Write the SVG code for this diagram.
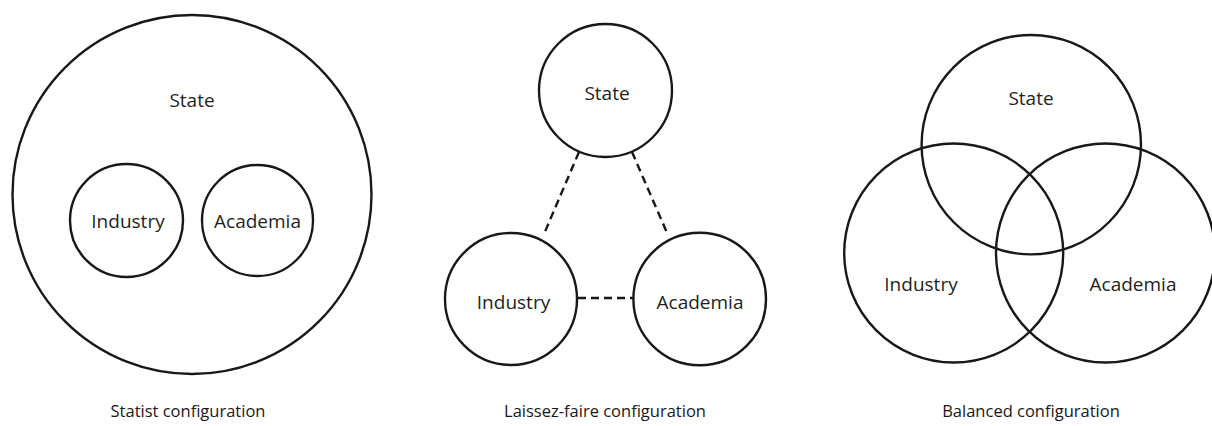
<svg xmlns="http://www.w3.org/2000/svg" width="1212" height="426" viewBox="0 0 1212 426">
  <style>
    .ring { fill: none; stroke: #1a1718; stroke-width: 2.4; }
    .link { fill: none; stroke: #1a1718; stroke-width: 2.4; stroke-dasharray: 8 5; }
    .label { font-family: "Open Sans", "Noto Sans", "DejaVu Sans", sans-serif; font-size: 19px; fill: #231f20; text-anchor: middle; }
    .caption { font-family: "Open Sans", "Noto Sans", "DejaVu Sans", sans-serif; font-size: 16.5px; fill: #1a1718; text-anchor: middle; }
  </style>
  <rect width="1212" height="426" fill="#fff"/>

  <!-- Statist configuration: state encloses industry and academia -->
  <g id="statist-state">
    <circle class="ring" cx="192" cy="194.5" r="179.5"/>
    <text class="label" x="192" y="107">State</text>
  </g>
  <g id="statist-industry">
    <circle class="ring" cx="126.5" cy="220.5" r="56.5"/>
    <text class="label" x="128" y="228">Industry</text>
  </g>
  <g id="statist-academia">
    <circle class="ring" cx="257.5" cy="220.5" r="55.5"/>
    <text class="label" x="257.5" y="228">Academia</text>
  </g>

  <!-- Laissez-faire configuration: three separate spheres -->
  <g id="laissez-state">
    <circle class="ring" cx="605.5" cy="90.5" r="66.5"/>
    <text class="label" x="607" y="100">State</text>
  </g>
  <g id="laissez-industry">
    <circle class="ring" cx="511" cy="299" r="66"/>
    <text class="label" x="513.5" y="309">Industry</text>
  </g>
  <g id="laissez-academia">
    <circle class="ring" cx="699.7" cy="299" r="66.3"/>
    <text class="label" x="700" y="309">Academia</text>
  </g>
  <g id="connectors">
    <line class="link" x1="579" y1="152" x2="544" y2="234"/>
    <line class="link" x1="632" y1="152" x2="668" y2="235"/>
    <line class="link" x1="578" y1="298" x2="634" y2="298"/>
  </g>

  <!-- Balanced configuration: overlapping spheres -->
  <g id="balanced-state">
    <circle class="ring" cx="1031.3" cy="144.7" r="109.7"/>
    <text class="label" x="1031" y="105">State</text>
  </g>
  <g id="balanced-industry">
    <circle class="ring" cx="953.7" cy="253" r="109.5"/>
    <text class="label" x="921" y="291">Industry</text>
  </g>
  <g id="balanced-academia">
    <circle class="ring" cx="1105.5" cy="253" r="109.5"/>
    <text class="label" x="1133" y="291">Academia</text>
  </g>

  <!-- Captions -->
  <text class="caption" x="188" y="417">Statist configuration</text>
  <text class="caption" x="605" y="417">Laissez-faire configuration</text>
  <text class="caption" x="1031" y="417">Balanced configuration</text>
</svg>
